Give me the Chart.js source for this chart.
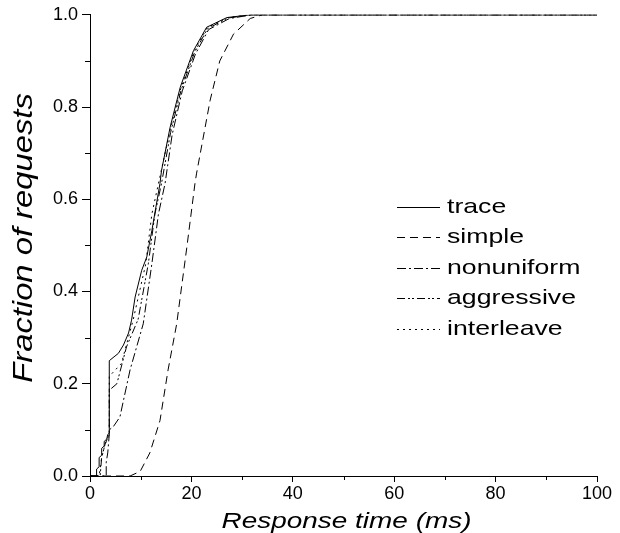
<!DOCTYPE html>
<html>
<head>
<meta charset="utf-8">
<script src="https://cdn.jsdelivr.net/npm/chart.js@4.4.0/dist/chart.umd.min.js"></script>
<style>
  html, body { margin: 0; padding: 0; background: #fff; }
</style>
</head>
<body>
<canvas id="cdfChart" width="620" height="533"></canvas>
<script>
// values (response time in ms, cumulative fraction)
const traceX = [0, 1.3, 1.3, 1.8, 1.8, 2.3, 2.3, 2.8, 2.8, 3.3, 3.5, 3.8, 3.8, 5.6, 6.6, 7.6, 8.2, 8.9, 10.2, 11.2, 12.2, 13.8, 14.1, 15.8, 17.8, 20.4, 23, 27, 31.6, 100];
const traceY = [0, 0, 0.015, 0.02, 0.04, 0.045, 0.06, 0.065, 0.075, 0.08, 0.09, 0.093, 0.25, 0.266, 0.284, 0.31, 0.338, 0.388, 0.446, 0.475, 0.532, 0.634, 0.662, 0.756, 0.843, 0.922, 0.973, 0.994, 1.0, 1.0];

const simpleX = [0, 7.9, 9.9, 11.8, 13.8, 15.4, 17.1, 19.1, 20.7, 21, 23.7, 25.6, 28.3, 31.6, 34, 100];
const simpleY = [0, 0, 0.01, 0.05, 0.12, 0.23, 0.33, 0.496, 0.634, 0.655, 0.815, 0.9, 0.958, 0.992, 1.0, 1.0];

const nonuniformX = [0, 3.2, 3.2, 3.5, 3.8, 3.8, 4.6, 5.9, 7.9, 10.5, 12.2, 13.5, 14.8, 16.2, 18.2, 20.8, 23.4, 27.5, 32, 100];
const nonuniformY = [0, 0, 0.03, 0.05, 0.09, 0.1, 0.107, 0.128, 0.23, 0.33, 0.46, 0.568, 0.634, 0.74, 0.835, 0.915, 0.968, 0.992, 1.0, 1.0];

const aggressiveX = [0, 2, 2.3, 3, 3.8, 3.8, 5.3, 7.2, 9.5, 11.5, 12.8, 14.1, 15.9, 18, 20.6, 23.2, 27.2, 31.8, 100];
const aggressiveY = [0, 0, 0.04, 0.07, 0.09, 0.186, 0.2, 0.28, 0.34, 0.46, 0.568, 0.634, 0.745, 0.838, 0.918, 0.97, 0.993, 1.0, 1.0];

const interleaveX = [0, 1.8, 2.3, 3, 3.8, 3.8, 6.2, 8.5, 11, 12.2, 13.5, 15.8, 17.9, 20.5, 23.1, 27.1, 31.7, 100];
const interleaveY = [0, 0, 0.04, 0.07, 0.09, 0.216, 0.244, 0.338, 0.46, 0.568, 0.634, 0.75, 0.84, 0.92, 0.972, 0.994, 1.0, 1.0];

const seriesNames = ['trace', 'simple', 'nonuniform', 'aggressive', 'interleave'];

// minor tick values (no labels)
const xMinorTicks = [10, 30, 50, 70, 90];
const yMinorTicks = [0.1, 0.3, 0.5, 0.7, 0.9];

function toPoints(xs, ys) {
    return xs.map((x, i) => ({ x: x, y: ys[i] }));
}

const dashes = [[], [8, 5], [9, 3, 2, 3], [8, 3, 2, 2, 2, 3], [2, 4]];
const allData = [
    toPoints(traceX, traceY),
    toPoints(simpleX, simpleY),
    toPoints(nonuniformX, nonuniformY),
    toPoints(aggressiveX, aggressiveY),
    toPoints(interleaveX, interleaveY)
];

const fontFamily = '"Liberation Sans", Arial, sans-serif';

// draws text squeezed/stretched along its own direction
function stretchedText(ctx, text, x, y, sx, align) {
    ctx.save();
    ctx.translate(x, y);
    ctx.scale(sx, 1);
    ctx.textAlign = align;
    ctx.fillText(text, 0, 0);
    ctx.restore();
}

const extras = {
    id: 'extras',
    afterDraw(chart) {
        const ctx = chart.ctx;
        const area = chart.chartArea;
        const xs = chart.scales.x;
        const ys = chart.scales.y;
        ctx.save();
        ctx.strokeStyle = '#000';
        ctx.fillStyle = '#000';
        ctx.lineWidth = 1;

        // minor ticks
        ctx.beginPath();
        xMinorTicks.forEach(v => {
            const px = Math.round(xs.getPixelForValue(v)) + 0.5;
            ctx.moveTo(px, area.bottom);
            ctx.lineTo(px, area.bottom + 4);
        });
        yMinorTicks.forEach(v => {
            const py = Math.round(ys.getPixelForValue(v)) + 0.5;
            ctx.moveTo(area.left, py);
            ctx.lineTo(area.left - 5, py);
        });
        ctx.stroke();

        // axis titles
        ctx.textBaseline = 'alphabetic';
        ctx.font = 'italic 22px ' + fontFamily;
        stretchedText(ctx, 'Response time (ms)', (area.left + area.right) / 2 + 3, 528, 1.27, 'center');

        ctx.save();
        ctx.translate(32, 238);
        ctx.rotate(-Math.PI / 2);
        ctx.font = 'italic 28px ' + fontFamily;
        stretchedText(ctx, 'Fraction of requests', 0, 0, 1.17, 'center');
        ctx.restore();

        // legend inside the plot
        ctx.font = '21px ' + fontFamily;
        chart.data.datasets.forEach((ds, i) => {
            const base = 213 + i * 30.4;
            const ly = Math.round(base - 6) + 0.5;
            ctx.beginPath();
            ctx.setLineDash(ds.borderDash || []);
            ctx.moveTo(397, ly);
            ctx.lineTo(440, ly);
            ctx.stroke();
            ctx.setLineDash([]);
            stretchedText(ctx, ds.label, 447, base, 1.27, 'left');
        });
        ctx.restore();
    }
};

const ctx = document.getElementById('cdfChart').getContext('2d');

new Chart(ctx, {
    type: 'line',
    data: {
        datasets: seriesNames.map((name, i) => ({
            label: name,
            data: allData[i],
            borderColor: '#000',
            borderWidth: 1,
            borderDash: dashes[i],
            pointRadius: 0,
            tension: 0,
            fill: false
        }))
    },
    options: {
        responsive: false,
        animation: false,
        layout: { padding: { top: 14, right: 23, left: 0, bottom: 0 } },
        plugins: {
            legend: { display: false },
            tooltip: { enabled: false }
        },
        scales: {
            x: {
                type: 'linear',
                min: 0,
                max: 100,
                ticks: {
                    stepSize: 20,
                    color: '#000',
                    font: { size: 18, family: fontFamily },
                    padding: 1,
                    maxRotation: 0
                },
                grid: { drawOnChartArea: false, tickLength: 6, color: '#000' },
                border: { color: '#000' },
                afterFit: scale => { scale.height = 57; }
            },
            y: {
                min: 0,
                max: 1,
                ticks: {
                    stepSize: 0.2,
                    color: '#000',
                    font: { size: 18, family: fontFamily },
                    padding: 4,
                    callback: v => v.toFixed(1)
                },
                grid: { drawOnChartArea: false, tickLength: 8, color: '#000' },
                border: { color: '#000' },
                afterFit: scale => { scale.width = 90; }
            }
        }
    },
    plugins: [extras]
});
</script>
</body>
</html>
